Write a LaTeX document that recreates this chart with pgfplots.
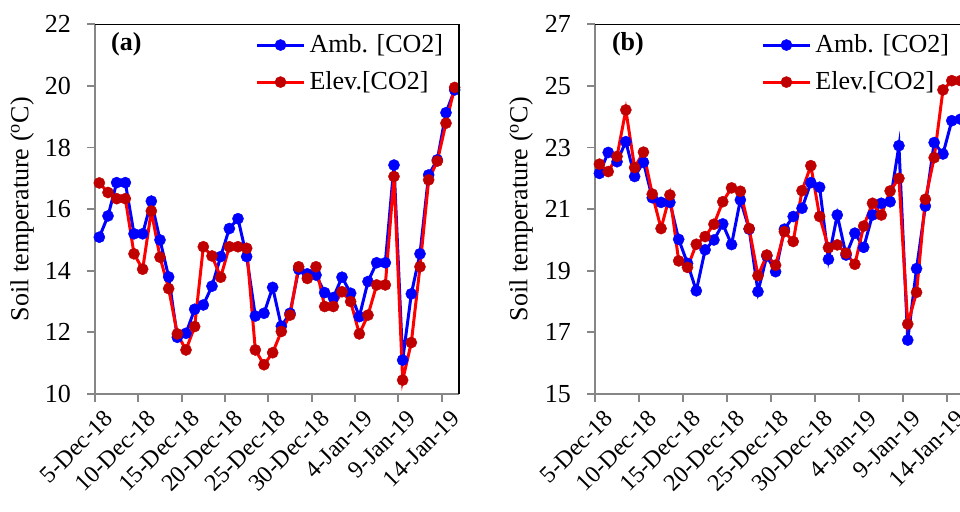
\documentclass[border=0pt]{standalone}
\usepackage{fontspec}
\setmainfont{Liberation Serif}
\usepackage{pgfplots}
\pgfplotsset{compat=1.18}
\usepackage{pgfplotstable}
\definecolor{ambc}{RGB}{0,0,255}
\definecolor{elevl}{RGB}{255,0,0}
\definecolor{elevm}{RGB}{192,0,0}
\definecolor{axgray}{RGB}{134,134,134}
\newcommand\f{\fontsize{13}{15.6}\selectfont}
\newcommand\fx{\fontsize{12}{14.4}\selectfont}

\pgfplotstableread{
x a e
0.5 15.09 16.85
1.5 15.78 16.54
2.5 16.86 16.34
3.5 16.86 16.34
4.5 15.20 14.55
5.5 15.20 14.05
6.5 16.26 15.94
7.5 15.00 14.44
8.5 13.80 13.42
9.5 11.84 11.95
10.5 11.97 11.43
11.5 12.75 12.19
12.5 12.89 14.78
13.5 13.50 14.48
14.5 14.46 13.79
15.5 15.37 14.78
16.5 15.69 14.78
17.5 14.46 14.73
18.5 12.53 11.43
19.5 12.62 10.95
20.5 13.46 11.34
21.5 12.20 12.03
22.5 12.62 12.56
23.5 14.05 14.13
24.5 13.90 13.75
25.5 13.86 14.13
26.5 13.29 12.84
27.5 13.13 12.84
28.5 13.79 13.32
29.5 13.27 13.00
30.5 12.51 11.95
31.5 13.65 12.56
32.5 14.26 13.54
33.5 14.26 13.54
34.5 17.43 17.06
35.5 11.10 10.45
36.5 13.25 11.67
37.5 14.55 14.13
38.5 17.11 16.95
39.5 17.60 17.56
40.5 19.13 18.79
41.5 19.87 19.95
}\dataA

\pgfplotstableread{
x a e
0.5 22.16 22.46
1.5 22.84 22.22
2.5 22.54 22.71
3.5 23.19 24.22
4.5 22.06 22.35
5.5 22.52 22.85
6.5 21.37 21.49
7.5 21.22 20.37
8.5 21.22 21.46
9.5 20.02 19.32
10.5 19.24 19.11
11.5 18.35 19.86
12.5 19.68 20.11
13.5 20.00 20.51
14.5 20.52 21.24
15.5 19.85 21.69
16.5 21.30 21.58
17.5 20.35 20.37
18.5 18.32 18.84
19.5 19.48 19.51
20.5 18.97 19.18
21.5 20.35 20.27
22.5 20.76 19.95
23.5 21.03 21.60
24.5 21.86 22.41
25.5 21.71 20.76
26.5 19.37 19.75
27.5 20.81 19.84
28.5 19.51 19.57
29.5 20.22 19.21
30.5 19.76 20.45
31.5 20.81 21.19
32.5 21.19 20.81
33.5 21.24 21.59
34.5 23.06 22.00
35.5 16.75 17.27
36.5 19.07 18.30
37.5 21.10 21.32
38.5 23.16 22.67
39.5 22.79 24.87
40.5 23.87 25.17
41.5 23.92 25.17
}\dataB

\pgfplotsset{
  panel/.style={
    scale only axis, height=184.85pt,
    xmin=0, xmax=42,
    xtick={0,5,...,40},
    xticklabels={5-Dec-18,10-Dec-18,15-Dec-18,20-Dec-18,25-Dec-18,30-Dec-18,4-Jan-19,9-Jan-19,14-Jan-19},
    axis lines*=left,
    axis line style={axgray, line width=0.9pt},
    tick style={axgray, line width=0.9pt},
    tick align=outside,
    major tick length=4pt,
    /pgf/number format/assume math mode=true,
    tick label style={font=\f, text=black},
    xticklabel style={font=\fx, rotate=45, anchor=north east, inner sep=1pt, xshift=1.5pt, yshift=-4pt},
    yticklabel style={xshift=-4.5pt},
    ylabel={Soil temperature (\textsuperscript{o}C)},
    ylabel style={font=\f, at={(axis description cs:-0.2,0.5)}, anchor=center},
    clip=false,
    legend style={draw=none, fill=none, font=\f, at={(axis description cs:0.985,0.995)}, anchor=north east, row sep=4pt, cells={anchor=west}},
    legend image code/.code={\draw[mark repeat=2,mark phase=2,#1] plot coordinates {(0pt,0pt) (11.75pt,0pt) (23.5pt,0pt)};},
    amb/.style={color=ambc, line width=1.5pt, mark=*, mark size=2.8pt, mark options={fill=ambc, draw=ambc, line width=0.2pt}},
    elv/.style={color=elevl, line width=1.5pt, mark=*, mark size=2.8pt, mark options={fill=elevm, draw=elevm, line width=0.2pt}},
  }
}

\begin{document}
\begin{tikzpicture}
\begin{axis}[panel, name=A, at={(0pt,0pt)}, anchor=south west, width=182pt,
  ymin=10, ymax=22, ytick={10,12,...,22}]
\addplot[amb] table[x=x, y=a] {\dataA};
\addlegendentry{Amb. [CO2]}
\addplot[elv] table[x=x, y=e] {\dataA};
\addlegendentry{Elev.[CO2]}
\node[font=\bfseries\f, anchor=west] at (axis description cs:0.025,0.947) {(a)};
\end{axis}
\draw[black, line width=0.6pt] (A.north west) -- (A.north east) -- (A.south east);

\begin{axis}[panel, name=B, at={(250pt,0pt)}, anchor=south west, width=185pt,
  ymin=15, ymax=27, ytick={15,17,...,27}]
\addplot[amb] table[x=x, y=a] {\dataB};
\addlegendentry{Amb. [CO2]}
\addplot[elv] table[x=x, y=e] {\dataB};
\addlegendentry{Elev.[CO2]}
\node[font=\bfseries\f, anchor=west] at (axis description cs:0.027,0.947) {(b)};
\end{axis}
\draw[black, line width=0.6pt] (B.north west) -- (B.north east) -- (B.south east);

\pgfresetboundingbox
\path[use as bounding box] (-47.5pt,-59pt) rectangle (432.5pt,197pt);
\end{tikzpicture}
\end{document}
